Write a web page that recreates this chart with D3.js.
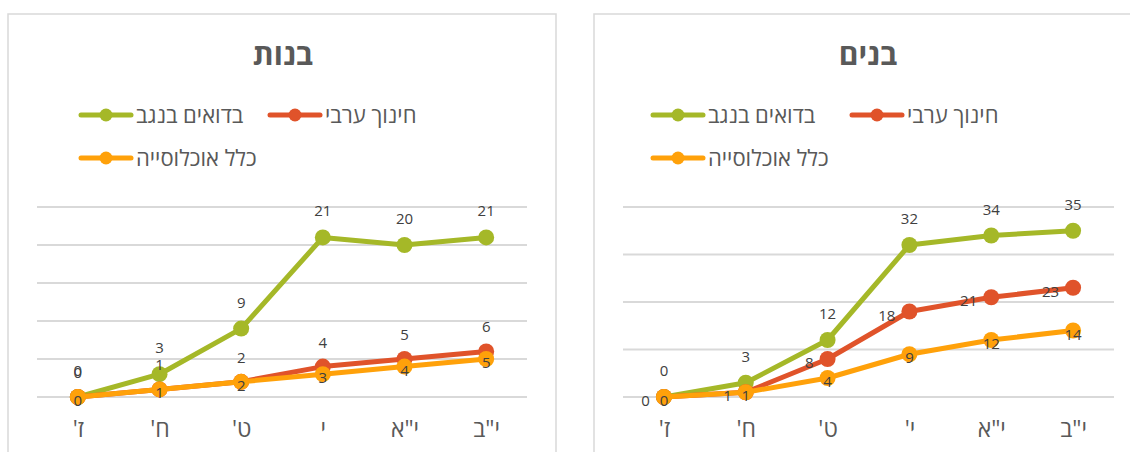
<!DOCTYPE html>
<html>
<head>
<meta charset="utf-8">
<script src="https://cdn.jsdelivr.net/npm/d3@7"></script>
<style>
  body { margin: 0; background: #fff; }
  text { font-family: "Open Sans", "DejaVu Sans", sans-serif; }
</style>
</head>
<body>
<svg id="chart"></svg>
<script>
// categories (grades)
var girlsGrades = ["ז'", "ח'", "ט'", "י", "י\"א", "י\"ב"];
var boysGrades = ["ז'", "ח'", "ט'", "י'", "י\"א", "י\"ב"];

// series names
var seriesNames = ["בדואים בנגב", "חינוך ערבי", "כלל אוכלוסייה"];

// girls values
var girlsBedouin = [0, 3, 9, 21, 20, 21];
var girlsArab = [0, 1, 2, 4, 5, 6];
var girlsAll = [0, 1, 2, 3, 4, 5];

// boys values
var boysBedouin = [0, 3, 12, 32, 34, 35];
var boysArab = [0, 1, 8, 18, 21, 23];
var boysAll = [0, 1, 4, 9, 12, 14];

// y axis ticks
var girlsTicks = [0, 5, 10, 15, 20, 25];
var boysTicks = [0, 10, 20, 30, 40];

var colors = ["#a5b828", "#e0532a", "#ffa10a"];

var width = 1130, height = 452;
var svg = d3.select("#chart").attr("width", width).attr("height", height);

function drawChart(opt) {
    var g = svg.append("g");

    // chart frame
    g.append("rect")
        .attr("x", opt.boxX).attr("y", 14)
        .attr("width", opt.boxW).attr("height", 460)
        .attr("fill", "#fff")
        .attr("stroke", "#d9d9d9")
        .attr("stroke-width", 1.5);

    // title
    g.append("text")
        .attr("x", opt.titleX).attr("y", 65)
        .attr("text-anchor", "middle")
        .attr("font-size", 30)
        .attr("font-weight", "bold")
        .attr("fill", "#595959")
        .text(opt.title);

    var x = d3.scalePoint()
        .domain(opt.grades)
        .range([opt.x0, opt.x1])
        .padding(0.5);

    var y = d3.scaleLinear()
        .domain([0, d3.max(opt.ticks)])
        .range([397, 207]);

    // gridlines
    g.selectAll(".grid")
        .data(opt.ticks)
        .enter().append("line")
        .attr("x1", opt.x0).attr("x2", opt.x1)
        .attr("y1", function(d) { return y(d); })
        .attr("y2", function(d) { return y(d); })
        .attr("stroke", "#d9d9d9")
        .attr("stroke-width", 2);

    // x axis labels
    var xAxis = d3.axisBottom(x).tickSize(0).tickPadding(0);
    var ax = g.append("g")
        .attr("transform", "translate(0,420)")
        .call(xAxis);
    ax.select(".domain").remove();
    ax.selectAll("text")
        .attr("font-size", 23)
        .attr("fill", "#595959")
        .attr("direction", "rtl")
        .attr("dy", "0.75em")
        .style("font-family", "'Open Sans', 'DejaVu Sans', sans-serif");

    var line = d3.line()
        .x(function(d, i) { return x(opt.grades[i]); })
        .y(function(d) { return y(d); });

    // draw order: bedouin, arab, all (all on top)
    opt.series.forEach(function(vals, si) {
        g.append("path")
            .datum(vals)
            .attr("d", line)
            .attr("fill", "none")
            .attr("stroke", colors[si])
            .attr("stroke-width", 5)
            .attr("stroke-linejoin", "round");

        g.selectAll(".m" + si)
            .data(vals)
            .enter().append("circle")
            .attr("cx", function(d, i) { return x(opt.grades[i]); })
            .attr("cy", function(d) { return y(d); })
            .attr("r", 8)
            .attr("fill", colors[si]);
    });

    // data labels
    opt.series.forEach(function(vals, si) {
        var pos = opt.labelPos[si];
        g.selectAll(".l" + si)
            .data(vals)
            .enter().append("text")
            .attr("x", function(d, i) {
                var cx = x(opt.grades[i]);
                return pos === "left" ? cx - 14 : cx;
            })
            .attr("y", function(d) {
                var cy = y(d);
                if (pos === "above") return cy - (si === 0 ? 21 : 19);
                return cy + 9;
            })
            .attr("text-anchor", pos === "left" ? "end" : "middle")
            .attr("font-size", 15)
            .attr("fill", "#404040")
            .text(function(d) { return d; });
    });

    // legend
    opt.legend.forEach(function(item, li) {
        var lg = g.append("g");
        lg.append("line")
            .attr("x1", item.x).attr("x2", item.x + 50)
            .attr("y1", item.y).attr("y2", item.y)
            .attr("stroke", colors[li])
            .attr("stroke-width", 5)
            .attr("stroke-linecap", "round");
        lg.append("circle")
            .attr("cx", item.x + 25).attr("cy", item.y)
            .attr("r", 6.5)
            .attr("fill", colors[li]);
        lg.append("text")
            .attr("x", item.x + 55).attr("y", item.y + 8)
            .attr("direction", "rtl")
            .attr("text-anchor", "end")
            .attr("font-size", 22)
            .attr("fill", "#595959")
            .text(seriesNames[li]);
    });
}

drawChart({
    boxX: 8, boxW: 548,
    title: "בנות", titleX: 283,
    grades: girlsGrades,
    series: [girlsBedouin, girlsArab, girlsAll],
    ticks: girlsTicks,
    x0: 37, x1: 527,
    labelPos: ["above", "above", "center"],
    legend: [{ x: 81, y: 115 }, { x: 270, y: 115 }, { x: 81, y: 158 }]
});

drawChart({
    boxX: 594, boxW: 560,
    title: "בנים", titleX: 868,
    grades: boysGrades,
    series: [boysBedouin, boysArab, boysAll],
    ticks: boysTicks,
    x0: 623, x1: 1114,
    labelPos: ["above", "left", "center"],
    legend: [{ x: 653, y: 115 }, { x: 852, y: 115 }, { x: 653, y: 158 }]
});
</script>
</body>
</html>
